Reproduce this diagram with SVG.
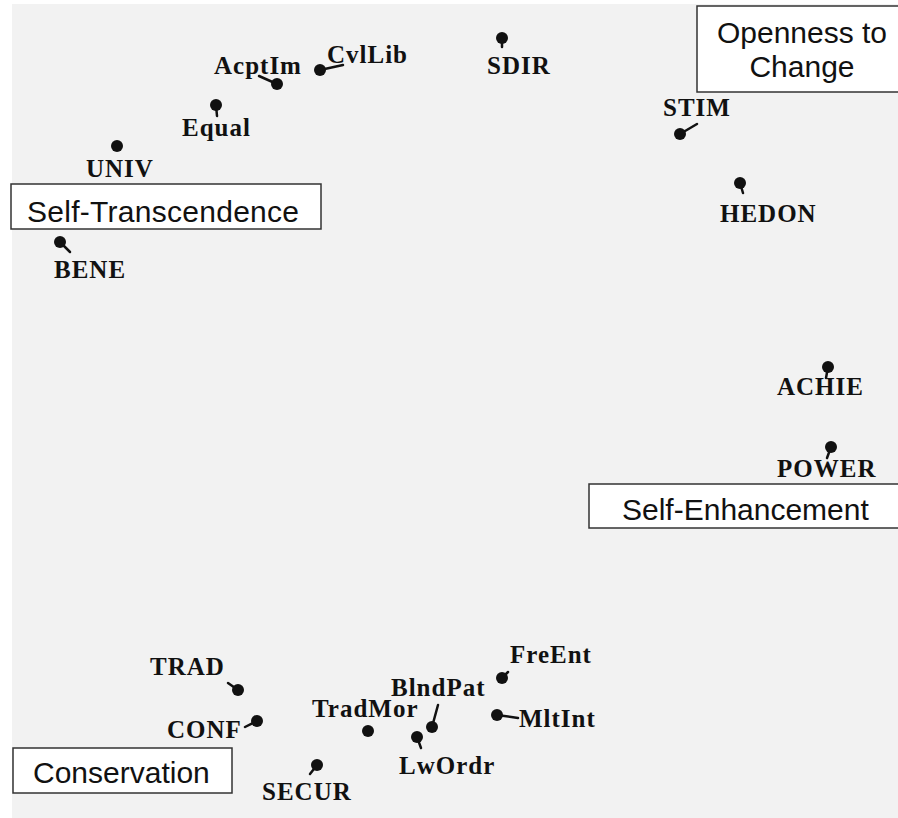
<svg xmlns="http://www.w3.org/2000/svg" width="898" height="818" viewBox="0 0 898 818">
<style>
.lbl{font-family:"Liberation Serif","Times New Roman",serif;font-weight:bold;font-size:25px;letter-spacing:1px;fill:#111}
.cat{font-family:"Liberation Sans",Arial,sans-serif;font-size:30px;fill:#111}
.box{fill:#fff;stroke:#333;stroke-width:1.5}
.dot{fill:#111}
.tail{stroke:#111;stroke-width:2.5;stroke-linecap:round}
</style>
<rect x="0" y="0" width="898" height="818" fill="#fff"/>
<rect x="12" y="4" width="886" height="814" fill="#f2f2f2"/>

<g id="connectors">
<line class="tail" x1="277" y1="84" x2="259" y2="76"/>
<line class="tail" x1="320" y1="70" x2="343" y2="65"/>
<line class="tail" x1="216" y1="105" x2="217" y2="116"/>
<line class="tail" x1="60" y1="242" x2="70" y2="252"/>
<line class="tail" x1="502" y1="38" x2="502" y2="47"/>
<line class="tail" x1="680" y1="134" x2="697" y2="124"/>
<line class="tail" x1="740" y1="183" x2="743" y2="193"/>
<line class="tail" x1="828" y1="367" x2="826" y2="378"/>
<line class="tail" x1="831" y1="447" x2="827" y2="458"/>
<line class="tail" x1="238" y1="690" x2="228" y2="683"/>
<line class="tail" x1="257" y1="721" x2="245" y2="727"/>
<line class="tail" x1="317" y1="765" x2="310" y2="774"/>
<line class="tail" x1="502" y1="678" x2="508" y2="672"/>
<line class="tail" x1="432" y1="727" x2="438" y2="705"/>
<line class="tail" x1="497" y1="715" x2="518" y2="718"/>
<line class="tail" x1="417" y1="737" x2="421" y2="748"/>
</g>

<g id="AcptIm"><circle class="dot" cx="277" cy="84" r="6"/><text class="lbl" x="214" y="74">AcptIm</text></g>
<g id="CvlLib"><circle class="dot" cx="320" cy="70" r="6"/><text class="lbl" x="327" y="63">CvlLib</text></g>
<g id="Equal"><circle class="dot" cx="216" cy="105" r="6"/><text class="lbl" x="182" y="136">Equal</text></g>
<g id="UNIV"><circle class="dot" cx="117" cy="146" r="6"/><text class="lbl" x="86" y="177">UNIV</text></g>
<g id="BENE"><circle class="dot" cx="60" cy="242" r="6"/><text class="lbl" x="54" y="278">BENE</text></g>
<g id="SDIR"><circle class="dot" cx="502" cy="38" r="6"/><text class="lbl" x="487" y="74">SDIR</text></g>
<g id="STIM"><circle class="dot" cx="680" cy="134" r="6"/><text class="lbl" x="663" y="116">STIM</text></g>
<g id="HEDON"><circle class="dot" cx="740" cy="183" r="6"/><text class="lbl" x="720" y="222">HEDON</text></g>
<g id="ACHIE"><circle class="dot" cx="828" cy="367" r="6"/><text class="lbl" x="777" y="395">ACHIE</text></g>
<g id="POWER"><circle class="dot" cx="831" cy="447" r="6"/><text class="lbl" x="777" y="477">POWER</text></g>
<g id="TRAD"><circle class="dot" cx="238" cy="690" r="6"/><text class="lbl" x="150" y="675">TRAD</text></g>
<g id="CONF"><circle class="dot" cx="257" cy="721" r="6"/><text class="lbl" x="167" y="738">CONF</text></g>
<g id="SECUR"><circle class="dot" cx="317" cy="765" r="6"/><text class="lbl" x="262" y="800">SECUR</text></g>
<g id="TradMor"><circle class="dot" cx="368" cy="731" r="6"/><text class="lbl" x="312" y="717">TradMor</text></g>
<g id="FreEnt"><circle class="dot" cx="502" cy="678" r="6"/><text class="lbl" x="510" y="663">FreEnt</text></g>
<g id="BlndPat"><circle class="dot" cx="432" cy="727" r="6"/><text class="lbl" x="391" y="696">BlndPat</text></g>
<g id="MltInt"><circle class="dot" cx="497" cy="715" r="6"/><text class="lbl" x="519" y="727">MltInt</text></g>
<g id="LwOrdr"><circle class="dot" cx="417" cy="737" r="6"/><text class="lbl" x="399" y="774">LwOrdr</text></g>

<g id="SelfTranscendence"><rect class="box" x="11" y="184" width="310" height="45"/><text class="cat" x="27" y="222" textLength="272">Self-Transcendence</text></g>
<g id="Openness"><rect class="box" x="697" y="6" width="210" height="86"/><text class="cat" x="802" y="43" text-anchor="middle">Openness to</text><text class="cat" x="802" y="77" text-anchor="middle">Change</text></g>
<g id="SelfEnhancement"><rect class="box" x="589" y="484" width="320" height="44"/><text class="cat" x="622" y="520">Self-Enhancement</text></g>
<g id="Conservation"><rect class="box" x="13" y="748" width="219" height="45"/><text class="cat" x="33" y="783">Conservation</text></g>
</svg>
